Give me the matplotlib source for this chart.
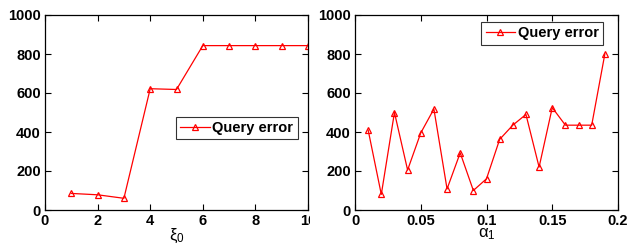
import numpy as np
import matplotlib.pyplot as plt
from matplotlib.transforms import Bbox

plt.rcParams['font.family'] = ['Liberation Sans', 'DejaVu Sans']
plt.rcParams['font.weight'] = 'bold'
plt.rcParams['font.size'] = 10

# left panel
xi0 = [1, 2, 3, 4, 5, 6, 7, 8, 9, 10]
err_xi = [85, 78, 60, 622, 618, 843, 843, 843, 843, 843]

# right panel
alpha1 = [0.01, 0.02, 0.03, 0.04, 0.05, 0.06, 0.07, 0.08, 0.09, 0.10,
          0.11, 0.12, 0.13, 0.14, 0.15, 0.16, 0.17, 0.18, 0.19]
err_alpha = [410, 80, 500, 205, 395, 518, 108, 293, 100, 160,
             362, 435, 490, 220, 525, 435, 435, 435, 800]

fig = plt.figure(figsize=(6.44, 2.46), dpi=100)
W, H = 644, 246
ax1 = fig.add_axes([45 / W, 1 - 210 / H, 263 / W, 195 / H])
ax2 = fig.add_axes([355 / W, 1 - 210 / H, 263 / W, 195 / H])

for ax, x, y in [(ax1, xi0, err_xi), (ax2, alpha1, err_alpha)]:
    ax.plot(x, y, color='red', lw=0.9, marker='^', ms=5,
            mfc='none', mec='red', mew=0.9, label='Query error')
    ax.set_ylim(0, 1000)
    ax.set_yticks(np.arange(0, 1001, 200))
    ax.tick_params(direction='in', top=True, right=True, length=4,
                   width=0.8, labelsize=10.5, pad=3)
    for s in ax.spines.values():
        s.set_linewidth(0.9)

ax1.set_xlim(0, 10)
ax1.set_xticks(np.arange(0, 11, 2))
ax2.set_xlim(0, 0.2)
ax2.set_xticks([0, 0.05, 0.1, 0.15, 0.2])
ax2.set_xticklabels(['0', '0.05', '0.1', '0.15', '0.2'])

ax1.set_xlabel(r'$\mathregular{\xi_0}$', fontsize=12, fontweight='normal',
               labelpad=-1)
ax2.set_xlabel(r'$\mathregular{\alpha_1}$', fontsize=12, fontweight='normal',
               labelpad=-1)

leg_kw = dict(frameon=True, fancybox=False, edgecolor='black',
              handlelength=2.0, handletextpad=0.2, borderpad=0.3,
              borderaxespad=0, prop={'weight': 'bold', 'size': 10.5})
l1 = ax1.legend(loc='center left', bbox_to_anchor=(0.498, 0.42), **leg_kw)
l2 = ax2.legend(loc='upper right', bbox_to_anchor=(0.943, 0.964), **leg_kw)
for l in (l1, l2):
    l.get_frame().set_linewidth(0.8)

# the original image cuts off the last tick label of the left panel
fig.canvas.draw()
lab = ax1.get_xticklabels()[-1]
lab.set_clip_box(Bbox.from_extents(0, 0, 310, H))
lab.set_clip_on(True)

fig.savefig('out.png', dpi=100)
